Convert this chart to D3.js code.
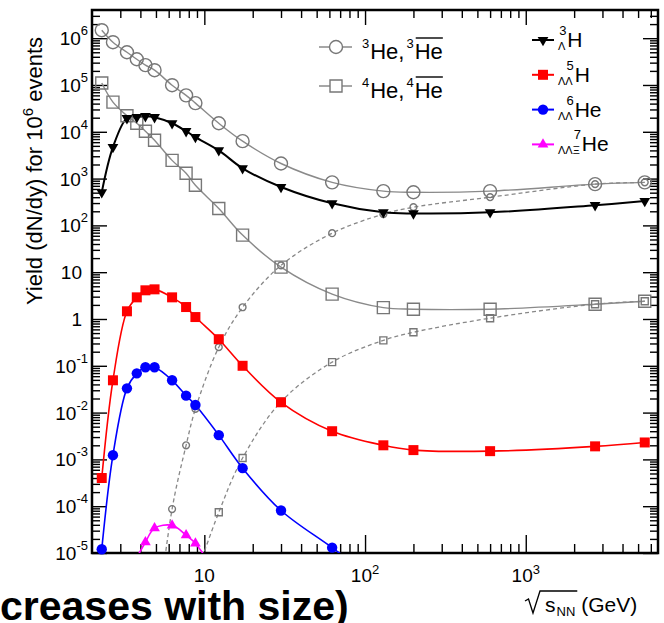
<!DOCTYPE html>
<html>
<head>
<meta charset="utf-8">
<script src="https://cdn.jsdelivr.net/npm/d3@7"></script>
<style>
  body { margin: 0; background: #fff; }
  svg { display: block; font-family: "Liberation Sans", Arial, Helvetica, sans-serif; }
</style>
</head>
<body>
<svg id="chart" width="664" height="623"></svg>
<script>
// Collision energies (GeV) shared by all yield series
const energies = [2.3, 2.7, 3.3, 3.8, 4.3, 4.9, 6.3, 7.7, 8.8, 12.3, 17.3, 30, 62.4, 130, 200, 600, 2700, 5500];

// Yields per 10^6 events (null = no point at that energy)
const he3Yield     = [1.48e6, 8.2e5, 5.0e5, 3.55e5, 2.65e5, 2.07e5, 9.9e4, 6.0e4, 4.1e4, 1.52e4, 6.3e3, 2.1e3, 830, 540, 510, 540, 760, 830];
const antiHe3Yield = [null, null, null, null, null, 1.3e-7, 8.7e-5, 2.0e-3, 1.2e-2, 0.25, 1.78, 14, 68, 174, 245, 400, 760, 830];
const he4Yield     = [1.1e5, 4.3e4, 2.2e4, 1.52e4, 1.03e4, 6.6e3, 2.45e3, 1.3e3, 720, 230, 62, 12.8, 3.4, 1.75, 1.62, 1.62, 2.07, 2.4];
const antiHe4Yield = [null, null, null, null, null, null, null, null, 3e-6, 7.4e-5, 1.07e-3, 1.7e-2, 0.12, 0.35, 0.52, 1.04, 2.07, 2.4];
const hyperH3Yield = [510, 4.7e3, 1.95e4, 2.05e4, 2.15e4, 2.05e4, 1.52e4, 1.03e4, 7.7e3, 4.0e3, 1.66e3, 660, 296, 190, 180, 190, 270, 330];
const h5LLYield    = [4.0e-4, 0.049, 1.46, 2.9, 4.1, 4.3, 2.9, 1.8, 1.1, 0.37, 0.10, 0.0166, 4.0e-3, 2.0e-3, 1.58e-3, 1.5e-3, 1.9e-3, 2.3e-3];
const he6LLYield   = [1.2e-5, 1.23e-3, 0.033, 0.069, 0.093, 0.093, 0.049, 0.023, 0.0145, 3.3e-3, 6.5e-4, 8.1e-5, 1.3e-5, 2e-6, null, null, null, null];
const he7LLXiYield = [null, null, null, 8e-6, 1.7e-5, 3.4e-5, 3.9e-5, 2.4e-5, 1.6e-5, 3e-6, null, null, null, null, null, null, null, null];

// Axis tick labels ("^" marks the exponent)
const xTickValues = [10, 100, 1000];
const xTickLabels = ["10", "10^2", "10^3"];
const yTickValues = [1e-5, 1e-4, 1e-3, 1e-2, 1e-1, 1, 10, 1e2, 1e3, 1e4, 1e5, 1e6];
const yTickLabels = ["10^-5", "10^-4", "10^-3", "10^-2", "10^-1", "1", "10", "10^2", "10^3", "10^4", "10^5", "10^6"];

const svg = d3.select("#chart");
const frame = { left: 92, right: 658, top: 10, bottom: 553 };

const x = d3.scaleLog().domain([2, 6650]).range([frame.left, frame.right]);
const y = d3.scaleLog().domain([1e-5, 4e6]).range([frame.bottom, frame.top]);

// Minor log ticks (2..9 per decade) inside the domain
function minorTicks(scale) {
  const [a, b] = scale.domain();
  const out = [];
  for (let e = Math.floor(Math.log10(a)); e <= Math.ceil(Math.log10(b)); e++) {
    for (let k = 2; k <= 9; k++) {
      const v = k * Math.pow(10, e);
      if (v > a && v < b) out.push(v);
    }
  }
  return out;
}

const FONT = '"Liberation Sans", Arial, Helvetica, sans-serif';

// ---------- plot clip (lines only; markers are drawn when their point is in range) ----------
svg.append("defs").append("clipPath").attr("id", "plotClip")
  .append("rect")
  .attr("x", frame.left).attr("y", frame.top)
  .attr("width", frame.right - frame.left).attr("height", frame.bottom - frame.top);

// ---------- axes with inward ticks on all four sides ----------
const axesG = svg.append("g").attr("class", "axes");
function drawAxis(axisFn, scale, pos, values, size) {
  const g = axesG.append("g")
    .attr("transform", pos)
    .call(axisFn(scale).tickValues(values).tickSize(size).tickFormat(() => ""));
  g.select(".domain").remove();
  g.selectAll(".tick line").attr("stroke", "#000").attr("stroke-width", 1.4);
  return g;
}
// bottom (ticks point up)
drawAxis(d3.axisBottom, x, `translate(0,${frame.bottom})`, xTickValues, -18);
drawAxis(d3.axisBottom, x, `translate(0,${frame.bottom})`, minorTicks(x), -9);
// top (ticks point down)
drawAxis(d3.axisTop, x, `translate(0,${frame.top})`, xTickValues, -15);
drawAxis(d3.axisTop, x, `translate(0,${frame.top})`, minorTicks(x), -8);
// left (ticks point right)
drawAxis(d3.axisLeft, y, `translate(${frame.left},0)`, yTickValues, -15);
drawAxis(d3.axisLeft, y, `translate(${frame.left},0)`, minorTicks(y), -8);
// right (ticks point left)
drawAxis(d3.axisRight, y, `translate(${frame.right},0)`, yTickValues, -15);
drawAxis(d3.axisRight, y, `translate(${frame.right},0)`, minorTicks(y), -8);

// frame
axesG.append("rect")
  .attr("x", frame.left).attr("y", frame.top)
  .attr("width", frame.right - frame.left).attr("height", frame.bottom - frame.top)
  .attr("fill", "none").attr("stroke", "#000").attr("stroke-width", 2.5);

// tick labels with superscripted exponents
function powerLabel(sel, label, baseSize, supSize, supRaise) {
  const [base, exp] = label.split("^");
  sel.append("tspan").attr("font-size", baseSize).text(base);
  if (exp !== undefined) {
    sel.append("tspan").attr("font-size", supSize).attr("dy", -supRaise).text(exp);
  }
}
const yLabelG = svg.append("g").attr("font-family", FONT).attr("fill", "#000");
yTickValues.forEach((v, i) => {
  const lab = yTickLabels[i];
  const hasExp = lab.includes("^");
  const t = yLabelG.append("text")
    .attr("x", hasExp ? 88 : 82)
    .attr("y", y(v) + 7)
    .attr("text-anchor", "end");
  powerLabel(t, lab, 19, 13, 10);
});
const xLabelG = svg.append("g").attr("font-family", FONT).attr("fill", "#000");
xTickValues.forEach((v, i) => {
  const t = xLabelG.append("text")
    .attr("x", x(v))
    .attr("y", 582)
    .attr("text-anchor", "middle");
  powerLabel(t, xTickLabels[i], 19, 13, 8);
});

// ---------- axis titles ----------
const yTitle = svg.append("text")
  .attr("transform", "translate(42,171) rotate(-90)")
  .attr("text-anchor", "middle")
  .attr("font-family", FONT)
  .attr("font-size", 22);
yTitle.append("tspan").text("Yield (dN/dy) for 10");
yTitle.append("tspan").attr("font-size", 15).attr("dy", -9).text("6");
yTitle.append("tspan").attr("dy", 9).text(" events");

// √s_NN (GeV)
const xt = svg.append("g").attr("font-family", FONT).attr("fill", "#000");
const sText = xt.append("text").attr("x", 545).attr("y", 612).attr("font-size", 21).text("s");
const sEnd = 545 + sText.node().getComputedTextLength();
const nnText = xt.append("text").attr("x", sEnd + 1).attr("y", 616).attr("font-size", 13).text("NN");
const nnEnd = sEnd + 1 + nnText.node().getComputedTextLength();
xt.append("path")
  .attr("d", `M525,601 L528.5,599 L533,613 L540,591 H${nnEnd + 2}`)
  .attr("fill", "none").attr("stroke", "#000").attr("stroke-width", 1.3);
xt.append("text").attr("x", nnEnd + 6).attr("y", 612).attr("font-size", 21).text("(GeV)");

// ---------- data series ----------
const series = [
  { values: antiHe3Yield, color: "#888", width: 1.3, dash: "4,3", symbol: d3.symbolCircle, size: Math.PI * 3.4 * 3.4, filled: false, mstroke: "#777" },
  { values: antiHe4Yield, color: "#888", width: 1.3, dash: "4,3", symbol: d3.symbolSquare, size: 49, filled: false, mstroke: "#777" },
  { values: he3Yield, color: "#8a8a8a", width: 1.4, dash: null, symbol: d3.symbolCircle, size: Math.PI * 6.5 * 6.5, filled: false, mstroke: "#777" },
  { values: he4Yield, color: "#8a8a8a", width: 1.4, dash: null, symbol: d3.symbolSquare, size: 144, filled: false, mstroke: "#777" },
  { values: hyperH3Yield, color: "#000", width: 2, dash: null, symbol: d3.symbolTriangle, size: 50, filled: true, rotate: 180 },
  { values: h5LLYield, color: "#ff0000", width: 1.6, dash: null, symbol: d3.symbolSquare, size: 100, filled: true },
  { values: he6LLYield, color: "#0000ff", width: 1.6, dash: null, symbol: d3.symbolCircle, size: Math.PI * 5.2 * 5.2, filled: true },
  { values: he7LLXiYield, color: "#ff00ff", width: 1.6, dash: null, symbol: d3.symbolTriangle, size: 50, filled: true }
];

const plotLines = svg.append("g").attr("clip-path", "url(#plotClip)");
const plotMarks = svg.append("g");
const line = d3.line()
  .defined(d => d.v != null)
  .x(d => x(d.e))
  .y(d => y(d.v))
  .curve(d3.curveCatmullRom.alpha(0.5));

const [yMin, yMax] = y.domain();
series.forEach(s => {
  const pts = energies.map((e, i) => ({ e, v: s.values[i] })).filter(d => d.v != null);
  plotLines.append("path")
    .datum(pts)
    .attr("d", line)
    .attr("fill", "none")
    .attr("stroke", s.color)
    .attr("stroke-width", s.width)
    .attr("stroke-dasharray", s.dash);
  plotMarks.append("g").selectAll("path")
    .data(pts.filter(d => d.v >= yMin && d.v <= yMax))
    .join("path")
    .attr("d", d3.symbol().type(s.symbol).size(s.size))
    .attr("transform", d => `translate(${x(d.e)},${y(d.v)})` + (s.rotate ? ` rotate(${s.rotate})` : ""))
    .attr("fill", s.filled ? s.color : "none")
    .attr("stroke", s.filled ? "none" : s.mstroke)
    .attr("stroke-width", s.filled ? 0 : 1.4);
});

// ---------- legends ----------
// Lays out text pieces left to right
function pieces(g, x0, baseY, parts) {
  let cx = x0;
  parts.forEach(p => {
    const t = g.append("text")
      .attr("x", cx)
      .attr("y", baseY + (p.dy || 0))
      .attr("font-size", p.size)
      .attr("font-family", FONT)
      .text(p.text);
    const w = t.node().getComputedTextLength();
    if (p.overline) {
      g.append("line")
        .attr("x1", cx + 1).attr("x2", cx + w)
        .attr("y1", baseY - 21).attr("y2", baseY - 21)
        .attr("stroke", "#000").attr("stroke-width", 1.4);
    }
    cx += w + (p.gap || 0);
  });
}

const legendHe = [
  { parts: [{ text: "3", size: 13, dy: -11, gap: 1 }, { text: "He, ", size: 22, gap: 2 }, { text: "3", size: 13, dy: -11, gap: 1 }, { text: "He", size: 22, overline: true }], s: series[2] },
  { parts: [{ text: "4", size: 13, dy: -11, gap: 1 }, { text: "He, ", size: 22, gap: 2 }, { text: "4", size: 13, dy: -11, gap: 1 }, { text: "He", size: 22, overline: true }], s: series[3] }
];
const legHeG = svg.append("g");
legendHe.forEach((entry, i) => {
  const ry = 47 + i * 39;
  legHeG.append("line").attr("x1", 319).attr("x2", 352).attr("y1", ry).attr("y2", ry)
    .attr("stroke", entry.s.color).attr("stroke-width", 1.4);
  legHeG.append("path")
    .attr("d", d3.symbol().type(entry.s.symbol).size(entry.s.size))
    .attr("transform", `translate(336,${ry})`)
    .attr("fill", "#fff").attr("stroke", entry.s.mstroke).attr("stroke-width", 1.4);
  pieces(legHeG, 362, ry + 12, entry.parts);
});

const legendHyper = [
  { sub: "\u039B", sup: "3", main: "H", s: series[4] },
  { sub: "\u039B\u039B", sup: "5", main: "H", s: series[5] },
  { sub: "\u039B\u039B", sup: "6", main: "He", s: series[6] },
  { sub: "\u039B\u039B\u039E", sup: "7", main: "He", s: series[7] }
];
const legHyG = svg.append("g").attr("font-family", FONT);
legendHyper.forEach((entry, i) => {
  const ry = 40 + i * 34.8;
  legHyG.append("line").attr("x1", 532).attr("x2", 554).attr("y1", ry).attr("y2", ry)
    .attr("stroke", entry.s.color).attr("stroke-width", 2);
  legHyG.append("path")
    .attr("d", d3.symbol().type(entry.s.symbol).size(entry.s.size))
    .attr("transform", `translate(543,${ry})` + (entry.s.rotate ? ` rotate(${entry.s.rotate})` : ""))
    .attr("fill", entry.s.color);
  const x0 = 558;
  const sub = legHyG.append("text").attr("x", x0).attr("y", ry + 10).attr("font-size", 11).text(entry.sub);
  const subW = sub.node().getComputedTextLength();
  legHyG.append("text").attr("x", x0 + subW + 1).attr("y", ry - 5)
    .attr("font-size", 13).attr("text-anchor", "end").text(entry.sup);
  legHyG.append("text").attr("x", x0 + subW + 2).attr("y", ry + 7).attr("font-size", 21).text(entry.main);
});

// ---------- caption fragment along the bottom edge ----------
svg.append("text")
  .attr("x", 0).attr("y", 620)
  .attr("font-family", FONT)
  .attr("font-weight", "bold")
  .attr("font-size", 41)
  .text("creases with size)");
</script>
</body>
</html>
